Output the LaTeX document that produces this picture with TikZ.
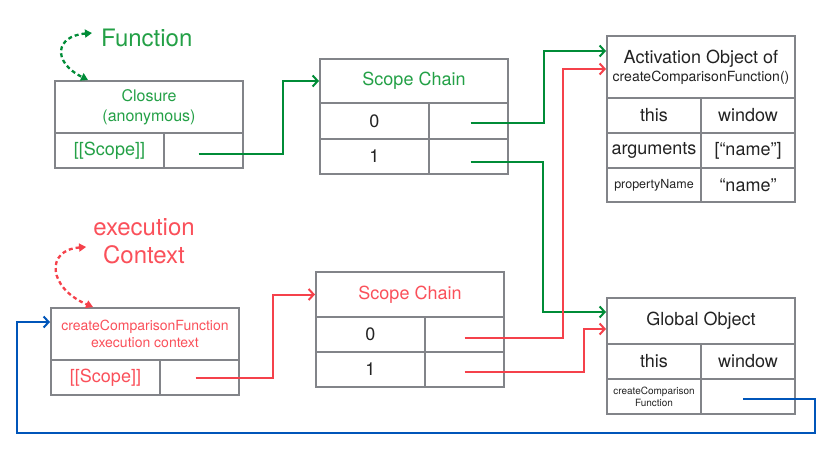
\documentclass[tikz,border=0pt]{standalone}
\usepackage{fontspec}
\setmainfont{TeX Gyre Heros}
\usetikzlibrary{arrows.meta}

\definecolor{linegreen}{RGB}{0,140,55}
\definecolor{txtgreen}{RGB}{35,160,70}
\definecolor{linered}{RGB}{245,65,75}
\definecolor{txtred}{RGB}{250,80,90}
\definecolor{lineblue}{RGB}{0,85,185}
\definecolor{boxgray}{RGB}{130,132,137}
\definecolor{txtblack}{RGB}{35,35,35}

\newcommand{\txtsize}[2]{\fontsize{#1}{#2}\selectfont}

\begin{document}
\begin{tikzpicture}[x=1pt, y=-1pt,
    cell/.style={draw=boxgray, line width=2pt, anchor=north west, inner sep=0pt,
                 align=center, text=txtblack, font=\txtsize{18}{21}},
    gline/.style={draw=linegreen, line width=2pt, -{Straight Barb[length=5pt,width=11pt]}},
    rline/.style={draw=linered, line width=2pt, -{Straight Barb[length=5pt,width=11pt]}},
    bline/.style={draw=lineblue, line width=2pt, -{Straight Barb[length=5pt,width=11pt]}},
    gdots/.style={draw=linegreen, line width=2.3pt, dash pattern=on 4pt off 3pt,
                  {Triangle[length=7pt,width=8pt]}-{Triangle[length=7pt,width=8pt]}},
    rdots/.style={draw=linered, line width=2.3pt, dash pattern=on 4pt off 3pt,
                  {Triangle[length=7pt,width=8pt]}-{Triangle[length=7pt,width=8pt]}}]

\useasboundingbox (0,0) rectangle (833,460);

% Labels
\node[anchor=west, inner sep=0pt, text=txtgreen, font=\txtsize{24}{28}] (fnlabel) at (101,38) {Function};
\node[inner sep=0pt, align=center, text=txtred, font=\txtsize{24}{28}] (exlabel) at (144,241) {execution\\Context};

% Closure
\node[cell, minimum width=188, minimum height=52, text=txtgreen, font=\txtsize{16}{20}] (clohead) at (54,80) {Closure\\(anonymous)};
\node[cell, minimum width=109, minimum height=35, text=txtgreen] (clokey) at (54,132) {[[Scope]]};
\node[cell, minimum width=79, minimum height=35] (cloval) at (163,132) {};

% Scope chain of the closure
\node[cell, minimum width=188, minimum height=44, text=txtgreen] (sc1head) at (319,58) {Scope Chain};
\node[cell, minimum width=109, minimum height=36] (sc1zkey) at (319,102) {0};
\node[cell, minimum width=79, minimum height=36] (sc1zval) at (428,102) {};
\node[cell, minimum width=109, minimum height=35] (sc1okey) at (319,138) {1};
\node[cell, minimum width=79, minimum height=35] (sc1oval) at (428,138) {};

% Activation object
\node[cell, minimum width=188, minimum height=62] (acthead) at (606,35) {Activation Object of\\[-3pt]{\txtsize{14}{17}createComparisonFunction()}};
\node[cell, minimum width=94, minimum height=35] (actthis) at (606,97) {this};
\node[cell, minimum width=94, minimum height=35] (actwin) at (700,97) {window};
\node[cell, minimum width=94, minimum height=35] (actarg) at (606,132) {arguments};
\node[cell, minimum width=94, minimum height=35] (actargv) at (700,132) {[“name”]};
\node[cell, minimum width=94, minimum height=34, font=\txtsize{12.5}{15}] (actprop) at (606,167) {propertyName};
\node[cell, minimum width=94, minimum height=34] (actpropv) at (700,167) {“name”};

% Execution context
\node[cell, minimum width=188, minimum height=52, text=txtred, font=\txtsize{14}{17}] (exhead) at (50,307) {createComparisonFunction\\execution context};
\node[cell, minimum width=109, minimum height=35, text=txtred] (exkey) at (50,359) {[[Scope]]};
\node[cell, minimum width=79, minimum height=35] (exval) at (159,359) {};

% Scope chain of the execution context
\node[cell, minimum width=188, minimum height=45, text=txtred] (sc2head) at (315,271) {Scope Chain};
\node[cell, minimum width=109, minimum height=35] (sc2zkey) at (315,316) {0};
\node[cell, minimum width=79, minimum height=35] (sc2zval) at (424,316) {};
\node[cell, minimum width=109, minimum height=35] (sc2okey) at (315,351) {1};
\node[cell, minimum width=79, minimum height=35] (sc2oval) at (424,351) {};

% Global object
\node[cell, minimum width=188, minimum height=46] (glohead) at (606,297) {Global Object};
\node[cell, minimum width=94, minimum height=35] (glothis) at (606,343) {this};
\node[cell, minimum width=94, minimum height=35] (glowin) at (700,343) {window};
\node[cell, minimum width=94, minimum height=35, font=\txtsize{10}{12}] (glofn) at (606,378) {createComparison\\Function};
\node[cell, minimum width=94, minimum height=35] (glofnv) at (700,378) {};

% Entry points
\coordinate (actin) at ([yshift=16pt]acthead.west);
\coordinate (actinred) at ([yshift=-2pt]acthead.west);
\coordinate (gloin) at ([yshift=9pt]glohead.west);
\coordinate (gloinred) at ([yshift=-8pt]glohead.west);
\coordinate (exin) at ([yshift=12pt]exhead.west);

% Green links
\draw[gline] ([xshift=-5pt,yshift=-3pt]cloval.center) -| ([xshift=-36pt]sc1head.west) -- (sc1head.west);
\draw[gline] ([xshift=2pt,yshift=-2pt]sc1zval.center) -| ([xshift=-62pt]actin) -- (actin);
\draw[gline] ([xshift=2pt,yshift=-5pt]sc1oval.center) -| ([xshift=-63pt]gloin) -- (gloin);

% Red links
\draw[rline] ([xshift=-4pt]exval.center) -| ([xshift=-42pt]sc2head.west) -- (sc2head.west);
\draw[rline] ([yshift=-3pt]sc2zval.center) -| ([xshift=-43pt]actinred) -- (actinred);
\draw[rline] ([yshift=-2pt]sc2oval.center) -| ([xshift=-22pt]gloinred) -- (gloinred);

% Blue link
\draw[bline] ([xshift=-5pt,yshift=-2pt]glofnv.center) -| ([xshift=67pt,yshift=-36pt]glofnv.center) -| ([xshift=-33pt]exin) -- (exin);

% Dotted arrows
\coordinate (fntip) at ([xshift=-9pt,yshift=5pt]fnlabel.west);
\coordinate (clotip) at ([xshift=-61pt]clohead.north);
\draw[gdots] (fntip) .. controls (55,36) and (52,62) .. (clotip);
\coordinate (extip) at ([xshift=-7pt,yshift=-6pt]exlabel.west);
\coordinate (exheadtip) at ([xshift=-52pt]exhead.north);
\draw[rdots] (extip) .. controls (45,250) and (48,288) .. (exheadtip);

\end{tikzpicture}
\end{document}
